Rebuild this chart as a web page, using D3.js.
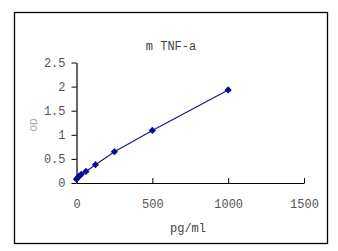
<!DOCTYPE html>
<html>
<head>
<meta charset="utf-8">
<script src="https://cdn.jsdelivr.net/npm/d3@7"></script>
<style>
  body { margin: 0; background: #fff; }
  text { font-family: "Liberation Mono", monospace; }
</style>
</head>
<body>
<div id="chart"></div>
<script>
const conc = [0, 7.8, 15.6, 31.25, 62.5, 125, 250, 500, 1000];
const od = [0.08, 0.11, 0.14, 0.18, 0.24, 0.38, 0.65, 1.09, 1.93];
const xTicks = [0, 500, 1000, 1500];
const yTicks = [0, 0.5, 1, 1.5, 2, 2.5];
const title = 'm TNF-a';

const width = 338, height = 251;
const margin = { top: 62.5, right: 34, bottom: 68, left: 76.5 };

const svg = d3.select('#chart')
  .append('svg')
  .attr('width', width)
  .attr('height', height);

// outer frame
svg.append('rect')
  .attr('x', 14.5).attr('y', 12.5)
  .attr('width', 313).attr('height', 231)
  .attr('fill', 'none')
  .attr('stroke', '#000')
  .attr('stroke-width', 1.3);

const x = d3.scaleLinear().domain([0, 1500]).range([margin.left, width - margin.right]);
const y = d3.scaleLinear().domain([0, 2.5]).range([height - margin.bottom, margin.top]);

const xAxis = svg.append('g')
  .attr('transform', `translate(0,${y(0)})`)
  .call(d3.axisBottom(x).tickValues(xTicks).tickSizeInner(-5).tickSizeOuter(0).tickPadding(16)
    .tickFormat(d => String(d)));

const yAxis = svg.append('g')
  .attr('transform', `translate(${x(0)},0)`)
  .call(d3.axisLeft(y).tickValues(yTicks).tickSizeInner(5).tickSizeOuter(0).tickPadding(6)
    .tickFormat(d => String(d)));

[xAxis, yAxis].forEach(a => {
  a.select('.domain').attr('stroke', '#000').attr('stroke-width', 1.2);
  a.selectAll('.tick line').attr('stroke', '#000');
  a.selectAll('.tick text').attr('fill', '#555').style('font-size', '12px');
});

svg.append('text')
  .attr('x', 171).attr('y', 50)
  .attr('text-anchor', 'middle')
  .attr('fill', '#444')
  .style('font-size', '12px')
  .text(title);

svg.append('text')
  .attr('x', 188).attr('y', 232)
  .attr('text-anchor', 'middle')
  .attr('fill', '#444')
  .style('font-size', '12px')
  .text('pg/ml');

svg.append('text')
  .attr('transform', 'translate(37,125) rotate(-90)')
  .attr('text-anchor', 'middle')
  .attr('fill', '#aaa')
  .style('font-size', '11px')
  .text('OD');

const pts = conc.map((c, i) => [c, od[i]]);

svg.append('path')
  .datum(pts)
  .attr('fill', 'none')
  .attr('stroke', '#1a1a80')
  .attr('stroke-width', 1.2)
  .attr('d', d3.line().x(d => x(d[0])).y(d => y(d[1])));

svg.selectAll('.pt')
  .data(pts)
  .enter()
  .append('path')
  .attr('class', 'pt')
  .attr('transform', d => `translate(${x(d[0])},${y(d[1])}) rotate(45)`)
  .attr('d', d3.symbol().type(d3.symbolSquare).size(26))
  .attr('fill', '#0a0a9a');
</script>
</body>
</html>
